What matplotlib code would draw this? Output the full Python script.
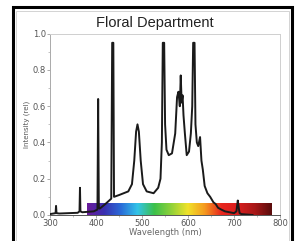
import numpy as np
import matplotlib
matplotlib.use('Agg')
import matplotlib.pyplot as plt
from matplotlib.colors import LinearSegmentedColormap
from matplotlib.patches import Rectangle

# spectrum (wavelength in nm, relative intensity)
wavelength = [300, 312, 313, 314, 320, 340, 360, 364, 365, 366, 370, 395, 403, 404.5, 406, 408,
              420, 433, 435, 437.5, 439, 450, 470, 478, 483, 487, 490, 493, 497, 502, 510, 525, 535,
              540, 543, 545, 548, 550, 553, 558, 565, 572, 576, 579, 582, 584, 586, 588,
              590, 593, 597, 602, 606, 609, 611, 614, 616, 619, 622, 626, 629, 632, 636,
              642, 648, 655, 660, 665, 672, 680, 690, 700, 705, 708, 710, 712, 716, 725, 740]
intensity = [0.005, 0.01, 0.05, 0.01, 0.008, 0.01, 0.012, 0.02, 0.15, 0.02, 0.015, 0.02, 0.03, 0.64,
             0.04, 0.035, 0.06, 0.09, 0.95, 0.95, 0.1, 0.11, 0.13, 0.17, 0.3, 0.46, 0.5, 0.46, 0.3,
             0.17, 0.13, 0.12, 0.15, 0.2, 0.4, 0.95, 0.95, 0.5, 0.36, 0.33, 0.34, 0.45, 0.65, 0.68,
             0.6, 0.77, 0.62, 0.66, 0.55, 0.45, 0.33, 0.35, 0.45, 0.6, 0.95, 0.95, 0.5, 0.4, 0.38,
             0.43, 0.3, 0.25, 0.16, 0.12, 0.1, 0.07, 0.06, 0.04, 0.03, 0.02, 0.015, 0.01, 0.02, 0.08,
             0.04, 0.01, 0.005, 0.003, 0.0]

# visible colour band under the curve
band_start, band_end, band_height = 380, 780, 0.065
band_colors = ['#6a1b9a', '#3a2fb0', '#2a6bd8', '#33c4e8', '#3cc04a', '#8fd13a',
               '#f0e22a', '#f59a1e', '#e8261e', '#d81e1e', '#a81818', '#5a0c0c']

fig = plt.figure(figsize=(2.98, 2.41), dpi=100)
fig.patches.append(Rectangle((0.045, -0.01), 0.935, 0.98, transform=fig.transFigure,
                             fill=False, edgecolor='black', linewidth=2.2))
fig.patches.append(Rectangle((0.055, -0.01), 0.915, 0.965, transform=fig.transFigure,
                             fill=False, edgecolor='#cccccc', linewidth=0.6))

ax = fig.add_axes([0.168, 0.108, 0.772, 0.752])

cmap = LinearSegmentedColormap.from_list('spec', band_colors)
grad = np.linspace(0, 1, 256).reshape(1, -1)
ax.imshow(grad, cmap=cmap, aspect='auto', extent=[band_start, band_end, 0, band_height],
          zorder=1, interpolation='bilinear')

ax.plot(wavelength, intensity, color='#1a1a1a', linewidth=1.4, zorder=3)

ax.set_xlim(300, 800)
ax.set_ylim(0, 1.0)
ax.set_xticks([300, 400, 500, 600, 700, 800])
ax.set_yticks([0.0, 0.2, 0.4, 0.6, 0.8, 1.0])
ax.set_yticks(np.arange(0.1, 1.0, 0.2), minor=True)
ax.set_xticks(np.arange(350, 800, 100), minor=True)
ax.set_yticklabels(['0.0', '0.2', '0.4', '0.6', '0.8', '1.0'])
ax.tick_params(labelsize=6, labelcolor='#555555', colors='#888888', length=2, width=0.5, pad=1)
ax.tick_params(which='minor', length=1.2, width=0.5, colors='#aaaaaa')
for s in ax.spines.values():
    s.set_color('#cfcfcf')
    s.set_linewidth(0.7)
ax.spines['left'].set_color('#aaaaaa')
ax.spines['bottom'].set_color('#555555')

ax.set_xlabel('Wavelength (nm)', fontsize=6, color='#666666', labelpad=0)
ax.set_ylabel('Intensity (rel)', fontsize=5, color='#555555', labelpad=2)
fig.text(0.52, 0.905, 'Floral Department', ha='center', va='center', fontsize=10.5,
         family='Liberation Sans', color='#222222')

fig.savefig('out.png', dpi=100)
